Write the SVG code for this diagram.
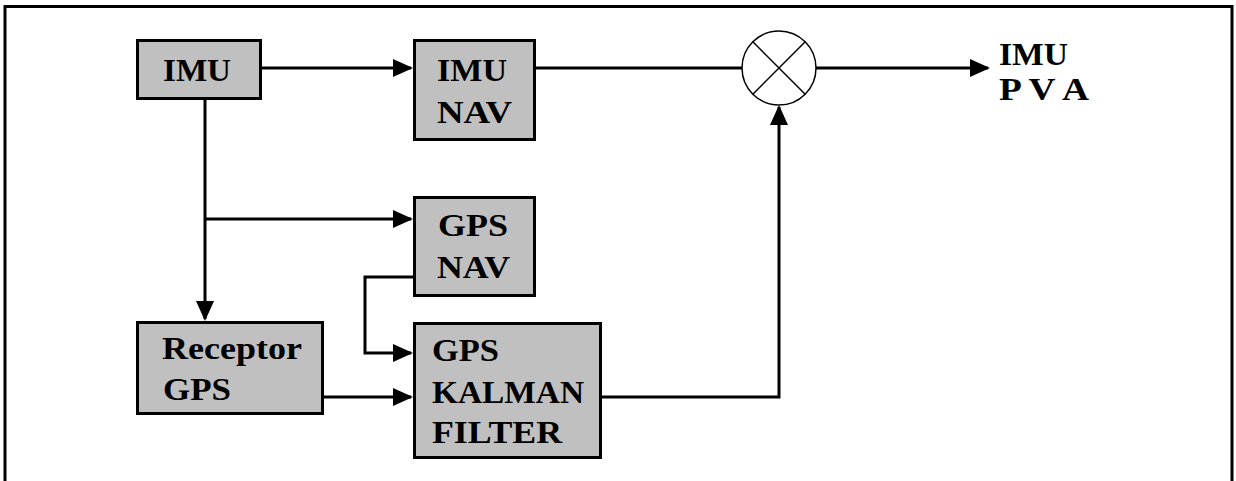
<svg xmlns="http://www.w3.org/2000/svg" width="1236" height="481" viewBox="0 0 1236 481">
  <style>
    .box { fill: #c0c0c0; stroke: #000; stroke-width: 3; }
    .lbl { font-family: "Liberation Serif", "Times New Roman", serif; font-weight: bold; font-size: 32px; fill: #000; }
    .wire { fill: none; stroke: #000; stroke-width: 3; }
    .thin { fill: none; stroke: #000; stroke-width: 1.5; }
  </style>
  <defs>
    <marker id="arr" markerUnits="userSpaceOnUse" markerWidth="20" markerHeight="18" refX="18" refY="9" orient="auto">
      <path d="M0,0 L20,9 L0,18 Z" fill="#000"/>
    </marker>
  </defs>
  <rect x="0" y="0" width="1236" height="481" fill="#fff"/>
  <path d="M5,481 V6.5 H1232 V481" fill="none" stroke="#000" stroke-width="3"/>

  <g id="connectors">
    <path class="wire" d="M262,68 H411" marker-end="url(#arr)"/>
    <path class="wire" d="M536,68 H742"/>
    <path class="wire" d="M816,68 H988" marker-end="url(#arr)"/>
    <path class="wire" d="M205,100 V319" marker-end="url(#arr)"/>
    <path class="wire" d="M205,219 H411" marker-end="url(#arr)"/>
    <path class="wire" d="M413,277 H365 V353 H411" marker-end="url(#arr)"/>
    <path class="wire" d="M324,397 H411" marker-end="url(#arr)"/>
    <path class="wire" d="M602,397 H779 V107" marker-end="url(#arr)"/>
  </g>

  <g id="imu">
    <rect class="box" x="137.5" y="40.5" width="123" height="58"/>
    <text class="lbl" x="163" y="81" textLength="68" lengthAdjust="spacingAndGlyphs">IMU</text>
  </g>
  <g id="imu-nav">
    <rect class="box" x="414.5" y="40.5" width="120" height="99"/>
    <text class="lbl" x="437" y="81" textLength="70" lengthAdjust="spacingAndGlyphs">IMU</text>
    <text class="lbl" x="437" y="123" textLength="75" lengthAdjust="spacingAndGlyphs">NAV</text>
  </g>
  <g id="sum">
    <circle class="thin" cx="779" cy="68" r="37" fill="#fff"/>
    <path class="thin" d="M752.8,41.8 L805.2,94.2 M805.2,41.8 L752.8,94.2"/>
  </g>
  <g id="output">
    <text class="lbl" x="999" y="65" textLength="69" lengthAdjust="spacingAndGlyphs">IMU</text>
    <text class="lbl" x="999" y="100" textLength="90" lengthAdjust="spacingAndGlyphs">P V A</text>
  </g>
  <g id="gps-nav">
    <rect class="box" x="414.5" y="197.5" width="120" height="98"/>
    <text class="lbl" x="438" y="236" textLength="70" lengthAdjust="spacingAndGlyphs">GPS</text>
    <text class="lbl" x="437" y="278" textLength="73" lengthAdjust="spacingAndGlyphs">NAV</text>
  </g>
  <g id="receptor-gps">
    <rect class="box" x="137.5" y="322.5" width="185" height="91"/>
    <text class="lbl" x="162" y="359" textLength="140" lengthAdjust="spacingAndGlyphs">Receptor</text>
    <text class="lbl" x="163" y="400" textLength="68" lengthAdjust="spacingAndGlyphs">GPS</text>
  </g>
  <g id="kalman">
    <rect class="box" x="414.5" y="323.5" width="186" height="134"/>
    <text class="lbl" x="432" y="361" textLength="67" lengthAdjust="spacingAndGlyphs">GPS</text>
    <text class="lbl" x="432" y="403" textLength="152" lengthAdjust="spacingAndGlyphs">KALMAN</text>
    <text class="lbl" x="432" y="443" textLength="130" lengthAdjust="spacingAndGlyphs">FILTER</text>
  </g>
</svg>
